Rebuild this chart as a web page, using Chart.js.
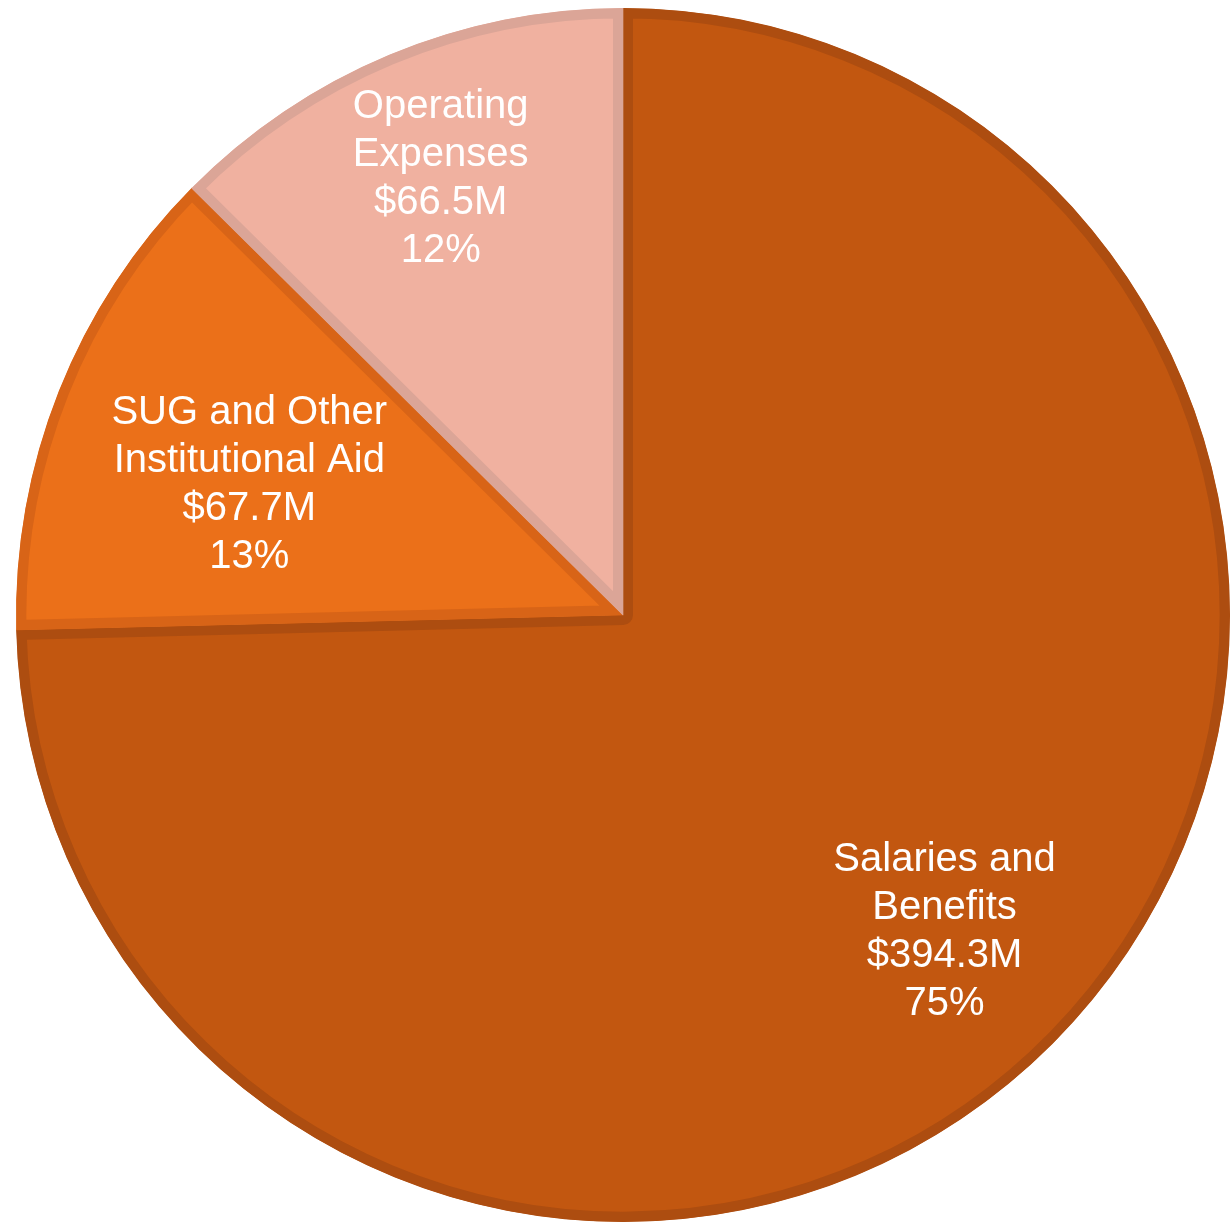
<!DOCTYPE html>
<html>
<head>
<meta charset="utf-8">
<script src="https://cdn.jsdelivr.net/npm/chart.js@4.4.1/dist/chart.umd.min.js"></script>
<style>
  html, body { margin: 0; padding: 0; background: #fff; }
  #wrap { width: 1230px; height: 1226px; position: relative; }
</style>
</head>
<body>
<div id="wrap"><canvas id="myChart"></canvas></div>
<script>
// budget categories (clockwise from 12 o'clock)
const categories = [["Salaries and", "Benefits"], ["SUG and Other", "Institutional Aid"], ["Operating", "Expenses"]];
const amounts = [394.3, 67.7, 66.5]; // $M
const percents = ["75%", "13%", "12%"];

const fillColors = ["#C25710", "#EB7019", "#F0B1A0"];
const edgeColors = ["#AD4D10", "#D86417", "#DBA597"];

// draws the text inside each slice
const sliceLabels = {
    id: "sliceLabels",
    afterDatasetsDraw(chart, args, opts) {
        const ctx = chart.ctx;
        const meta = chart.getDatasetMeta(0);
        ctx.save();
        ctx.fillStyle = "#fff";
        ctx.font = opts.font;
        ctx.textAlign = "center";
        ctx.textBaseline = "middle";
        meta.data.forEach((arc, i) => {
            const p = arc.getProps(["x", "y", "startAngle", "endAngle", "outerRadius"], true);
            const mid = (p.startAngle + p.endAngle) / 2;
            const r = p.outerRadius * opts.radius[i];
            const cx = p.x + Math.cos(mid) * r + opts.shift[i][0];
            const cy = p.y + Math.sin(mid) * r + opts.shift[i][1];
            const lines = [...categories[i], "$" + amounts[i].toFixed(1) + "M", percents[i]];
            const top = cy - (lines.length - 1) * opts.lineHeight / 2;
            lines.forEach((t, k) => ctx.fillText(t, cx, top + k * opts.lineHeight));
        });
        ctx.restore();
    }
};

new Chart("myChart", {
    type: "pie",
    data: {
        labels: categories.map(c => c.join(" ")),
        datasets: [{
            data: amounts,
            backgroundColor: fillColors,
            borderColor: edgeColors,
            borderWidth: 10,
            borderAlign: "inner"
        }]
    },
    options: {
        responsive: true,
        maintainAspectRatio: false,
        animation: false,
        layout: { padding: { left: 16, right: 0, top: 8, bottom: 4 } },
        plugins: {
            legend: { display: false },
            tooltip: { enabled: false },
            sliceLabels: {
                font: "40px 'Liberation Sans', Arial, sans-serif",
                lineHeight: 48,
                radius: [0.74, 0.65, 0.78],
                shift: [[0, 3], [-7, 15], [0, 1]]
            }
        }
    },
    plugins: [sliceLabels]
});
</script>
</body>
</html>
